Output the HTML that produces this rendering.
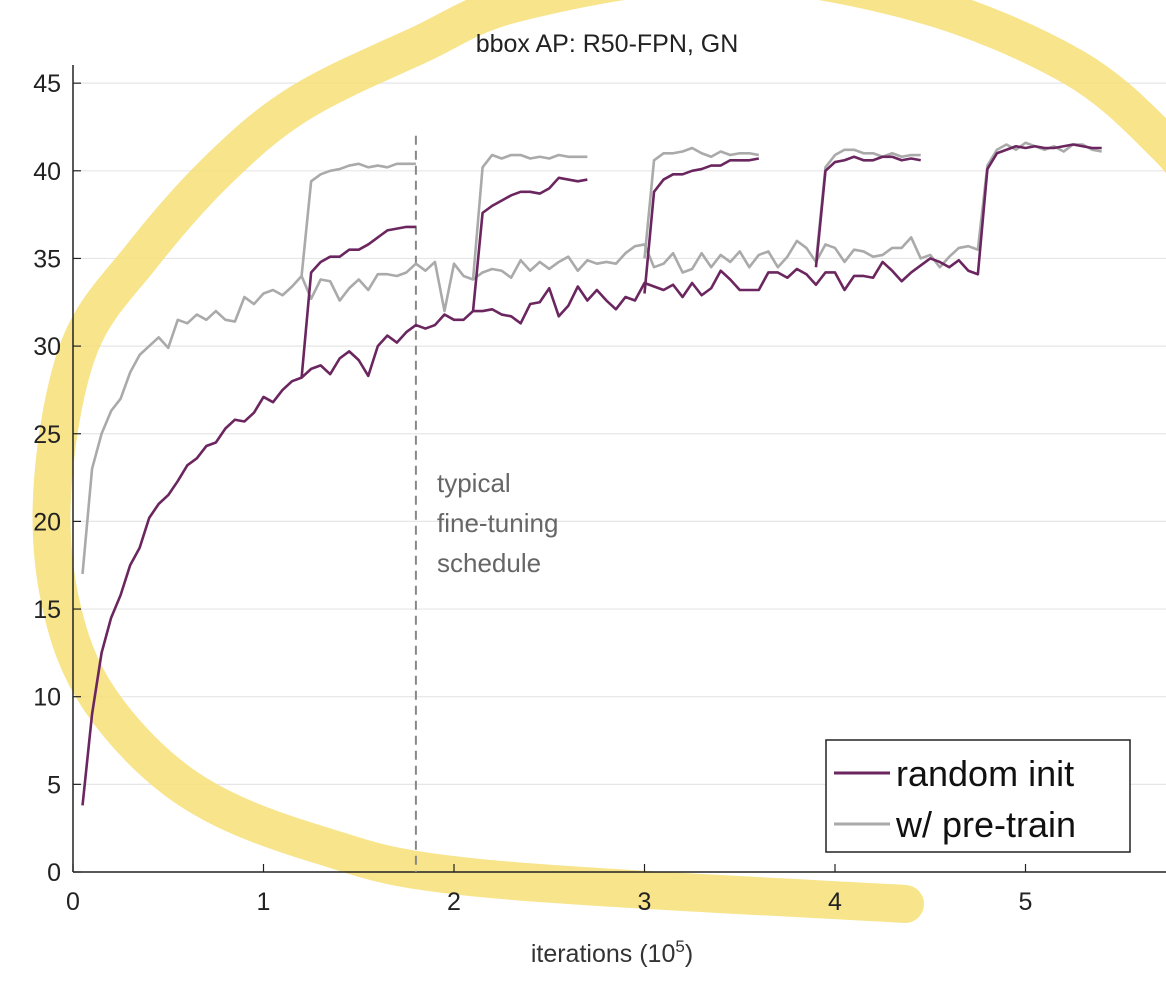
<!DOCTYPE html>
<html><head><meta charset="utf-8"><style>
body{margin:0;background:#fff;font-family:"Liberation Sans",sans-serif}
svg text{font-family:"Liberation Sans",sans-serif}
</style></head><body>
<svg id="chart" width="1166" height="978" viewBox="0 0 1166 978">
<rect width="1166" height="978" fill="#fff"/>
<g id="grid"></g>
<path id="hl" d="" fill="none" stroke="#f6df77" stroke-width="38" stroke-linecap="round" opacity="0.85"/>
<g id="axes"></g>
<g id="series"></g>
<text x="607" y="52" font-size="25" text-anchor="middle" fill="#222">bbox AP: R50-FPN, GN</text>
<text x="612" y="962" font-size="25" text-anchor="middle" fill="#333">iterations (10<tspan dy="-10" font-size="17">5</tspan><tspan dy="10">)</tspan></text>
<g font-size="26" fill="#666">
<text x="437" y="492">typical</text><text x="437" y="532">fine-tuning</text><text x="437" y="572">schedule</text></g>
<g>
<rect x="826" y="740" width="304" height="112" fill="#fff" stroke="#222" stroke-width="1.5"/>
<line x1="834" y1="773" x2="890" y2="773" stroke="#6b2660" stroke-width="3"/>
<text x="896" y="786" font-size="36" fill="#111">random init</text>
<line x1="834" y1="824" x2="890" y2="824" stroke="#aaa" stroke-width="3"/>
<text x="896" y="837" font-size="36" fill="#111">w/ pre-train</text>
</g>
</svg>
<script>
const rndX=[0.05,0.1,0.15,0.2,0.25,0.3,0.35,0.4,0.45,0.5,0.55,0.6,0.65,0.7,0.75,0.8,0.85,0.9,0.95,1.0,1.05,1.1,1.15,1.2,1.25,1.3,1.35,1.4,1.45,1.5,1.55,1.6,1.65,1.7,1.75,1.8,1.85,1.9,1.95,2.0,2.05,2.1,2.15,2.2,2.25,2.3,2.35,2.4,2.45,2.5,2.55,2.6,2.65,2.7,2.75,2.8,2.85,2.9,2.95,3.0,3.05,3.1,3.15,3.2,3.25,3.3,3.35,3.4,3.45,3.5,3.55,3.6,3.65,3.7,3.75,3.8,3.85,3.9,3.95,4.0,4.05,4.1,4.15,4.2,4.25,4.3,4.35,4.4,4.45,4.5,4.55,4.6,4.65,4.7,4.75,4.8,4.85,4.9,4.95,5.0,5.05,5.1,5.15,5.2,5.25,5.3,5.35,5.4];
const rndY=[3.8,9,12.5,14.5,15.8,17.5,18.5,20.2,21,21.5,22.3,23.2,23.6,24.3,24.5,25.3,25.8,25.7,26.2,27.1,26.8,27.5,28,28.2,28.7,28.9,28.4,29.3,29.7,29.2,28.3,30,30.6,30.2,30.8,31.2,31,31.2,31.8,31.5,31.5,32,32,32.1,31.8,31.7,31.3,32.4,32.5,33.3,31.7,32.3,33.4,32.6,33.2,32.6,32.1,32.8,32.6,33.6,33.4,33.2,33.5,32.8,33.6,32.9,33.3,34.3,33.8,33.2,33.2,33.2,34.2,34.2,33.9,34.4,34.1,33.5,34.2,34.2,33.2,34,34,33.9,34.8,34.3,33.7,34.2,34.6,35,34.8,34.5,34.9,34.3,34.1,40.1,41,41.2,41.4,41.3,41.4,41.3,41.3,41.4,41.5,41.4,41.3,41.3];
const ptY=[17,23,25,26.3,27,28.5,29.5,30,30.5,29.9,31.5,31.3,31.8,31.5,32,31.5,31.4,32.8,32.4,33,33.2,32.9,33.4,34,32.7,33.8,33.7,32.6,33.3,33.8,33.2,34.1,34.1,34,34.2,34.7,34.3,34.8,32,34.7,34,33.8,34.2,34.4,34.3,33.9,34.9,34.3,34.8,34.4,34.8,35.1,34.3,34.9,34.7,34.8,34.7,35.3,35.7,35.8,34.5,34.7,35.3,34.2,34.4,35.3,34.5,35.2,34.8,35.4,34.5,35.2,35.4,34.5,35.1,36,35.6,34.8,35.8,35.6,34.8,35.5,35.4,35.1,35.2,35.6,35.6,36.2,35,35.2,34.5,35.1,35.6,35.7,35.5,40.3,41.2,41.5,41.2,41.6,41.4,41.2,41.4,41.1,41.5,41.5,41.2,41.1];
const branchX=[[1.2,1.25,1.3,1.35,1.4,1.45,1.5,1.55,1.6,1.65,1.7,1.75,1.8],[2.1,2.15,2.2,2.25,2.3,2.35,2.4,2.45,2.5,2.55,2.6,2.65,2.7],[3.0,3.05,3.1,3.15,3.2,3.25,3.3,3.35,3.4,3.45,3.5,3.55,3.6],[3.9,3.95,4.0,4.05,4.1,4.15,4.2,4.25,4.3,4.35,4.4,4.45]];
const rndBranchY=[[28.2,34.2,34.8,35.1,35.1,35.5,35.5,35.8,36.2,36.6,36.7,36.8,36.8],[32,37.6,38,38.3,38.6,38.8,38.8,38.7,39,39.6,39.5,39.4,39.5],[33,38.8,39.5,39.8,39.8,40,40.1,40.3,40.3,40.6,40.6,40.6,40.7],[34.5,40,40.5,40.6,40.8,40.6,40.6,40.8,40.8,40.6,40.7,40.6]];
const ptBranchY=[[34,39.4,39.8,40,40.1,40.3,40.4,40.2,40.3,40.2,40.4,40.4,40.4],[33.8,40.2,40.9,40.7,40.9,40.9,40.7,40.8,40.7,40.9,40.8,40.8,40.8],[35,40.6,41,41,41.1,41.3,41,40.8,41.1,40.9,41,41,40.9],[34.8,40.2,40.9,41.2,41.2,41,41,40.8,41,40.8,40.9,40.9]];
const yTicks=[0,5,10,15,20,25,30,35,40,45];
const xTicks=[0,1,2,3,4,5];
const scheduleX=1.8;

const NS="http://www.w3.org/2000/svg";
const X0=73,XS=190.5,Y0=872,YS=17.53;
const sx=v=>X0+v*XS, sy=v=>Y0-v*YS;
const hlPts=[[1200,190],[1166,145],[1073,67],[915,2],[720,-28],[520,2],[419,45],[300,103],[218,170],[141,257],[80,345],[53,480],[60,600],[100,700],[190,790],[320,845],[480,878],[905,904]];
(function(){let d='M'+hlPts[0][0]+' '+hlPts[0][1];
for(let i=0;i<hlPts.length-1;i++){const p0=hlPts[Math.max(0,i-1)],p1=hlPts[i],p2=hlPts[i+1],p3=hlPts[Math.min(hlPts.length-1,i+2)];
d+=' C'+(p1[0]+(p2[0]-p0[0])/6)+' '+(p1[1]+(p2[1]-p0[1])/6)+','+(p2[0]-(p3[0]-p1[0])/6)+' '+(p2[1]-(p3[1]-p1[1])/6)+','+p2[0]+' '+p2[1];}
document.getElementById('hl').setAttribute('d',d);})();
function mk(tag,attrs,parent){const e=document.createElementNS(NS,tag);for(const k in attrs)e.setAttribute(k,attrs[k]);parent.appendChild(e);return e;}
const grid=document.getElementById('grid'),axes=document.getElementById('axes'),ser=document.getElementById('series');
yTicks.forEach(t=>{
 if(t>0){const g=mk('line',{x1:X0,x2:1166,y1:sy(t),y2:sy(t),stroke:'#e6e6e6','stroke-width':1.2},grid);
 
 }
 const l=mk('text',{x:X0-12,y:sy(t)+9,'font-size':25,'text-anchor':'end',fill:'#222'},axes);l.textContent=t;
 
 
 mk('line',{x1:X0,x2:X0+8,y1:sy(t),y2:sy(t),stroke:'#222','stroke-width':1.2},axes);
});
xTicks.forEach(t=>{
 const l=mk('text',{x:sx(t),y:Y0+38,'font-size':25,'text-anchor':'middle',fill:'#222'},axes);l.textContent=t;
 
 
 mk('line',{x1:sx(t),x2:sx(t),y1:Y0,y2:Y0-8,stroke:'#222','stroke-width':1.2},axes);
});
const ya=mk('line',{x1:X0,x2:X0,y1:65,y2:Y0,stroke:'#222','stroke-width':1.5},axes);


const xa=mk('line',{x1:X0,x2:1166,y1:Y0,y2:Y0,stroke:'#222','stroke-width':1.5},axes);


const dl=mk('line',{x1:sx(scheduleX),x2:sx(scheduleX),y1:sy(42),y2:Y0,stroke:'#888','stroke-width':2,'stroke-dasharray':'9,6'},ser);


function line(xs,ys,col,name){
 const p=mk('polyline',{points:xs.map((x,i)=>sx(x)+','+sy(ys[i])).join(' '),fill:'none',stroke:col,'stroke-width':2.6,'stroke-linejoin':'round'},ser);
 
 
}
line(rndX,ptY,'#aaaaaa','pretrain-main-line');
branchX.forEach((bx,i)=>line(bx,ptBranchY[i],'#aaaaaa','pretrain-branch-line'));
line(rndX,rndY,'#6b2660','random-init-main-line');
branchX.forEach((bx,i)=>line(bx,rndBranchY[i],'#6b2660','random-init-branch-line'));
</script>
</body></html>
